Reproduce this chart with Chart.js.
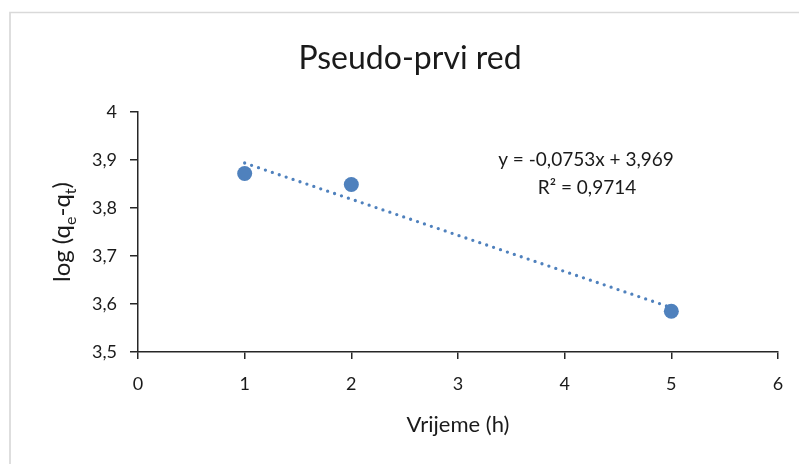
<!DOCTYPE html>
<html>
<head>
<meta charset="utf-8">
<style>
  html, body { margin: 0; padding: 0; background: #fff; }
  #wrap { width: 800px; height: 464px; position: relative; }
</style>
<script src="https://cdn.jsdelivr.net/npm/chart.js@4"></script>
</head>
<body>
<div id="wrap"><canvas id="c" width="800" height="464"></canvas></div>
<script>
// Data
const timeHours = [1, 2, 5];
const logValues = [3.872, 3.849, 3.585];
const trendX = [1, 5];
const trendY = [3.8937, 3.5925];
const xTicks = [0, 1, 2, 3, 4, 5, 6];
const yTicks = [3.5, 3.6, 3.7, 3.8, 3.9, 4];
const titleText = 'Pseudo-prvi red';
const xTitle = 'Vrijeme (h)';
const eqLine1 = 'y = -0,0753x + 3,969';
const eqLine2 = 'R² = 0,9714';

const FONT = 'Lato, "Open Sans", sans-serif';
const BLUE = '#4F81BD';
const AXIS = '#262626';
const TXT = '#1a1a1a';

const decor = {
  id: 'decor',
  beforeDraw(chart) {
    const ctx = chart.ctx;
    ctx.save();
    ctx.fillStyle = '#fff';
    ctx.fillRect(0, 0, chart.width, chart.height);
    ctx.strokeStyle = '#d9d9d9';
    ctx.lineWidth = 1.7;
    ctx.beginPath();
    ctx.moveTo(10, 464);
    ctx.lineTo(10, 12.5);
    ctx.lineTo(799, 12.5);
    ctx.stroke();
    ctx.restore();
  },
  afterDraw(chart) {
    const ctx = chart.ctx;
    const xs = chart.scales.x;
    ctx.save();
    ctx.fillStyle = TXT;
    ctx.textAlign = 'center';
    ctx.textBaseline = 'alphabetic';
    // title
    ctx.font = '32px ' + FONT;
    ctx.fillText(titleText, 410, 69);
    // x title
    ctx.font = '22px ' + FONT;
    ctx.fillText(xTitle, (xs.left + xs.right) / 2, 432);
    // equation
    ctx.font = '19px ' + FONT;
    ctx.fillText(eqLine1, 586, 166);
    ctx.fillText(eqLine2, 587, 194);
    // y title with subscripts
    ctx.translate(70, 232);
    ctx.rotate(-Math.PI / 2);
    const parts = [
      ['log (q', 24, 0], ['e', 16, 6], ['-q', 24, 0], ['t', 16, 6], [')', 24, 0]
    ];
    let total = 0;
    parts.forEach(p => { ctx.font = p[1] + 'px ' + FONT; total += ctx.measureText(p[0]).width; });
    let x = -total / 2;
    ctx.textAlign = 'left';
    parts.forEach(p => {
      ctx.font = p[1] + 'px ' + FONT;
      ctx.fillText(p[0], x, p[2]);
      x += ctx.measureText(p[0]).width;
    });
    ctx.restore();
  }
};

new Chart(document.getElementById('c'), {
  type: 'scatter',
  data: {
    datasets: [
      {
        label: 'Trend',
        data: trendX.map((v, i) => ({ x: v, y: trendY[i] })),
        showLine: true,
        borderColor: BLUE,
        borderWidth: 3.3,
        borderDash: [0, 7.3],
        borderCapStyle: 'round',
        pointRadius: 0,
        fill: false,
        order: 2
      },
      {
        label: 'Data',
        data: timeHours.map((v, i) => ({ x: v, y: logValues[i] })),
        backgroundColor: BLUE,
        borderColor: BLUE,
        pointRadius: 7.5,
        pointBorderWidth: 0,
        order: 1
      }
    ]
  },
  options: {
    responsive: false,
    animation: false,
    devicePixelRatio: 1,
    layout: { padding: { left: 0, right: 22, top: 112, bottom: 0 } },
    plugins: { legend: { display: false }, tooltip: { enabled: false }, title: { display: false } },
    scales: {
      x: {
        type: 'linear', min: 0, max: 6,
        afterBuildTicks(s) { s.ticks = xTicks.map(v => ({ value: v })); },
        afterFit(s) { s.height = 112; },
        ticks: { color: TXT, font: { size: 18, family: FONT }, padding: 14, callback: v => String(v) },
        grid: { display: true, drawOnChartArea: false, drawTicks: true, tickLength: 7, color: AXIS, lineWidth: 1.5 },
        border: { display: true, color: AXIS, width: 1.5 }
      },
      y: {
        type: 'linear', min: 3.5, max: 4,
        afterBuildTicks(s) { s.ticks = yTicks.map(v => ({ value: v })); },
        afterFit(s) { s.width = 138; },
        ticks: { color: TXT, font: { size: 18, family: FONT }, padding: 13,
          callback: v => (Math.round(v * 10) / 10).toString().replace('.', ',') },
        grid: { display: true, drawOnChartArea: false, drawTicks: true, tickLength: 8, color: AXIS, lineWidth: 1.5 },
        border: { display: true, color: AXIS, width: 1.5 }
      }
    }
  },
  plugins: [decor]
});
</script>
</body>
</html>
